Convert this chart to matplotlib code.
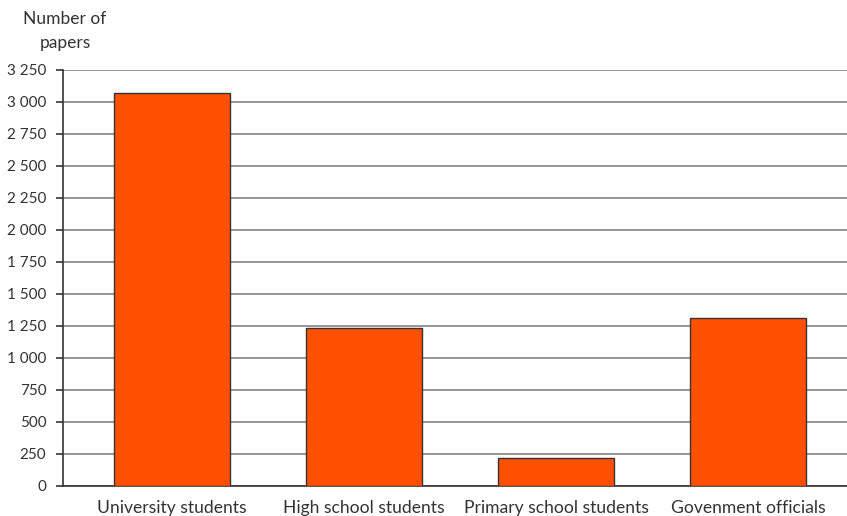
import matplotlib
matplotlib.use("Agg")
import matplotlib.pyplot as plt
import numpy as np

categories = ["University students", "High school students", "Primary school students", "Govenment officials"]
values = [3070, 1230, 220, 1315]
yticks = [0, 250, 500, 750, 1000, 1250, 1500, 1750, 2000, 2250, 2500, 2750, 3000, 3250]

plt.rcParams['font.family'] = ['Lato', 'DejaVu Sans']

fig = plt.figure(figsize=(8.47, 5.16), dpi=100)
ax = fig.add_axes([63/847, 1-485.7/516, 1-63/847, (485.7-70)/516])

x = np.arange(len(categories))
ax.bar(x, values, width=0.6, color="#FF5000", edgecolor="#333333", linewidth=1.0, zorder=3)

ax.set_ylim(0, 3250)
ax.set_xlim(-0.568, 3.516)
ax.set_yticks(yticks)
ax.set_yticklabels([f"{v:,}".replace(",", " ") for v in yticks])
ax.set_xticks(x)
ax.set_xticklabels(categories)
ax.yaxis.grid(True, color="#8c8c8c", linewidth=1.3, zorder=0)
ax.set_axisbelow(True)

for s in ["top", "right"]:
    ax.spines[s].set_visible(False)
for s in ["left", "bottom"]:
    ax.spines[s].set_color("#333333")
    ax.spines[s].set_linewidth(1.2)

ax.tick_params(axis="y", length=5, width=1.2, color="#333333", pad=7, labelsize=11, labelcolor="#333333")
ax.tick_params(axis="x", length=0, pad=10, labelsize=12.6, labelcolor="#333333")

fig.text(65/847, 1-31/516, "Number of\npapers", ha="center", va="center", fontsize=12.5, color="#333333", linespacing=1.6)

fig.savefig("out.png", dpi=100)
